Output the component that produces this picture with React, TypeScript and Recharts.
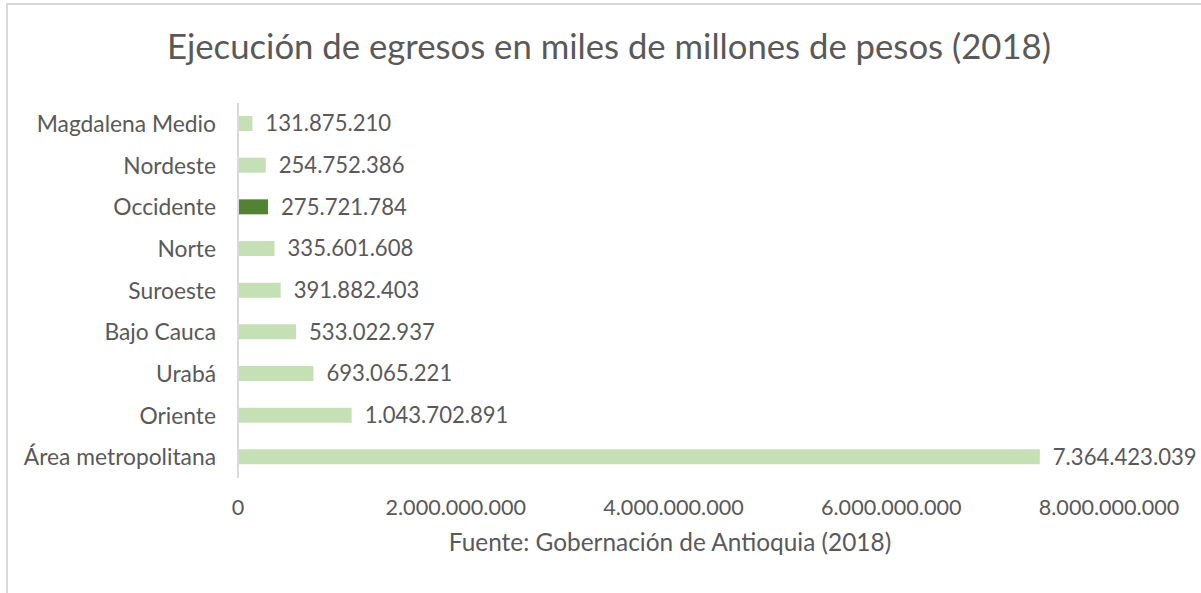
import React from 'react';
import { BarChart, Bar, XAxis, YAxis, Cell, LabelList } from 'recharts';

const regions = [
  'Magdalena Medio',
  'Nordeste',
  'Occidente',
  'Norte',
  'Suroeste',
  'Bajo Cauca',
  'Urabá',
  'Oriente',
  'Área metropolitana',
];

const egresos = [
  131875210, 254752386, 275721784, 335601608, 391882403, 533022937, 693065221,
  1043702891, 7364423039,
];

const xTicks = [0, 2000000000, 4000000000, 6000000000, 8000000000];

const highlighted = 'Occidente';

const data = regions.map((name, i) => ({ name, value: egresos[i] }));

const FONT = 'Lato, "Open Sans", sans-serif';
const TEXT = '#595959';

const withDots = (v: number | string) =>
  String(v).replace(/\B(?=(\d{3})+(?!\d))/g, '.');

export default function App() {
  return (
    <div
      style={{
        position: 'absolute',
        left: 0,
        top: 0,
        width: 1201,
        height: 593,
        background: '#fff',
        overflow: 'hidden',
        fontFamily: FONT,
      }}
    >
      <div
        style={{
          position: 'absolute',
          left: 6,
          top: 3,
          width: 1300,
          height: 700,
          border: '2px solid #d9d9d9',
        }}
      />
      <div
        style={{
          position: 'absolute',
          left: 609,
          top: 29,
          transform: 'translateX(-50%)',
          whiteSpace: 'nowrap',
          fontSize: 34.7,
          lineHeight: 1,
          color: TEXT,
        }}
      >
        Ejecución de egresos en miles de millones de pesos (2018)
      </div>
      <BarChart
        width={1201}
        height={593}
        data={data}
        layout="vertical"
        margin={{ top: 103, right: 92, bottom: 75, left: 0 }}
        barSize={15}
        style={{ position: 'absolute', left: 0, top: 0 }}
      >
        <XAxis
          type="number"
          domain={[0, 8000000000]}
          ticks={xTicks}
          axisLine={false}
          tickLine={false}
          tickSize={0}
          tickMargin={22}
          height={40}
          tickFormatter={withDots}
          tick={{ fill: TEXT, fontSize: 21.6, fontFamily: FONT }}
        />
        <YAxis
          type="category"
          dataKey="name"
          width={238}
          axisLine={{ stroke: '#d9d9d9', strokeWidth: 2 }}
          tickLine={false}
          tickSize={0}
          tickMargin={22}
          tick={{ fill: TEXT, fontSize: 22.8, fontFamily: FONT }}
        />
        <Bar dataKey="value" isAnimationActive={false}>
          {data.map((d) => (
            <Cell
              key={d.name}
              fill={d.name === highlighted ? '#548235' : '#c5e0b4'}
            />
          ))}
          <LabelList
            dataKey="value"
            position="right"
            offset={13}
            formatter={withDots}
            style={{ fill: TEXT, fontSize: 22.1, fontFamily: FONT }}
          />
        </Bar>
      </BarChart>
      <div
        style={{
          position: 'absolute',
          left: 670,
          top: 530,
          transform: 'translateX(-50%)',
          whiteSpace: 'nowrap',
          fontSize: 24.4,
          lineHeight: 1,
          color: TEXT,
        }}
      >
        Fuente: Gobernación de Antioquia (2018)
      </div>
    </div>
  );
}
